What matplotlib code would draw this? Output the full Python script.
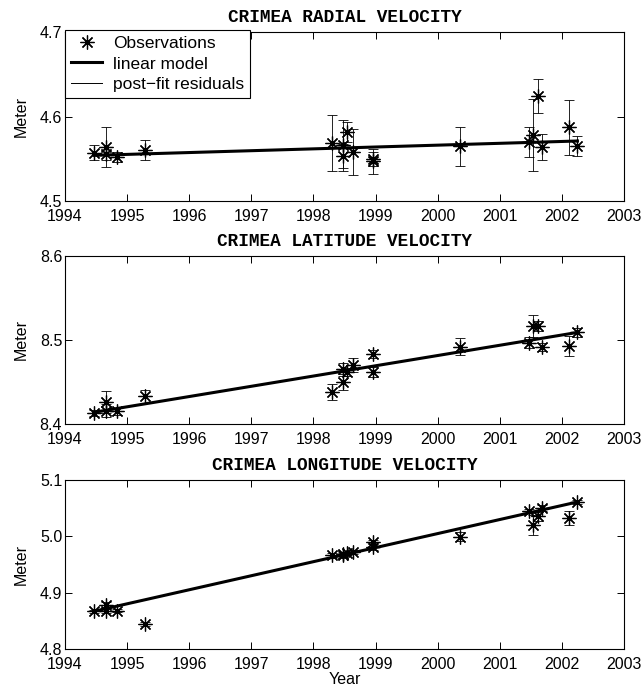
import matplotlib
matplotlib.use("Agg")
import matplotlib.pyplot as plt
from matplotlib.lines import Line2D

# Observation epochs (decimal year), shared by the three components
years = [1994.47, 1994.66, 1994.66, 1994.83, 1995.29, 1998.30, 1998.48, 1998.48,
         1998.54, 1998.64, 1998.96, 1998.96, 2000.36, 2001.47, 2001.54, 2001.62,
         2001.68, 2002.12, 2002.25]

radial = [4.557, 4.564, 4.556, 4.552, 4.560, 4.569, 4.566, 4.553, 4.582, 4.558,
          4.547, 4.550, 4.565, 4.570, 4.578, 4.624, 4.564, 4.587, 4.565]
radial_err = [0.009, 0.024, 0.008, 0.006, 0.012, 0.033, 0.030, 0.014, 0.012, 0.027,
              0.015, 0.008, 0.023, 0.018, 0.043, 0.020, 0.015, 0.032, 0.012]

latitude = [8.413, 8.426, 8.416, 8.415, 8.433, 8.438, 8.465, 8.450, 8.462, 8.470,
            8.483, 8.462, 8.492, 8.497, 8.517, 8.517, 8.492, 8.493, 8.509]
latitude_err = [0.004, 0.013, 0.008, 0.004, 0.008, 0.010, 0.008, 0.009, 0.005, 0.008,
                0.005, 0.006, 0.010, 0.006, 0.013, 0.006, 0.005, 0.012, 0.005]

longitude = [4.867, 4.878, 4.868, 4.868, 4.844, 4.966, 4.966, 4.969, 4.970, 4.972,
             4.981, 4.990, 4.999, 5.045, 5.020, 5.036, 5.050, 5.033, 5.061]
longitude_err = [0.003, 0.005, 0.004, 0.003, 0.004, 0.004, 0.005, 0.004, 0.003, 0.003,
                 0.005, 0.004, 0.008, 0.004, 0.017, 0.008, 0.005, 0.012, 0.004]

# linear model end points
model_years = [1994.47, 2002.25]
radial_model = [4.554, 4.571]
latitude_model = [8.414, 8.509]
longitude_model = [4.867, 5.061]

titles = ["CRIMEA RADIAL VELOCITY", "CRIMEA LATITUDE VELOCITY", "CRIMEA LONGITUDE VELOCITY"]
yticks = [[4.5, 4.6, 4.7], [8.4, 8.5, 8.6], [4.8, 4.9, 5.0, 5.1]]
xticks = list(range(1994, 2004))
legend_labels = ["Observations", "linear model", "post\u2212fit residuals"]

plt.rcParams['font.family'] = 'Liberation Sans'

W, H = 644, 695
fig = plt.figure(figsize=(W / 100, H / 100), dpi=100)

# axes boxes in pixels: (top, bottom)
boxes = [(32, 201), (256, 424), (480, 649)]
left, right = 65, 624

# MATLAB-like asterisk: plus and cross on top of each other
star = (8, 2, 0)
series = [(radial, radial_err, radial_model),
          (latitude, latitude_err, latitude_model),
          (longitude, longitude_err, longitude_model)]

for i, ((vals, errs, model), (top, bot)) in enumerate(zip(series, boxes)):
    ax = fig.add_axes([left / W, 1 - bot / H, (right - left) / W, (bot - top) / H])
    ax.errorbar(years, vals, yerr=errs, fmt='none', ecolor='black',
                elinewidth=0.6, capsize=3.5, capthick=0.6)
    ax.plot(years, vals, linestyle='none', marker=star, markersize=10,
            markeredgewidth=0.9, color='black')
    ax.plot(model_years, model, color='black', linewidth=2.2)

    ax.set_xlim(1994, 2003)
    ax.set_ylim(yticks[i][0], yticks[i][-1])
    ax.set_xticks(xticks)
    ax.set_yticks(yticks[i])
    ax.set_yticklabels([f"{t:.1f}" for t in yticks[i]])
    ax.tick_params(direction='in', top=True, right=True, length=5, width=0.7,
                   labelsize=11.5)
    ax.tick_params(axis='x', pad=5.5)
    ax.tick_params(axis='y', pad=2)
    for s in ax.spines.values():
        s.set_linewidth(0.8)
    ax.set_ylabel("Meter", fontsize=11.5, labelpad=8)
    ax.set_title(titles[i], family='Liberation Mono', fontweight='bold',
                 fontsize=12.8, pad=7)

    if i == 0:
        handles = [Line2D([], [], linestyle='none', marker=star, markersize=10,
                          markeredgewidth=0.9, color='black'),
                   Line2D([], [], color='black', linewidth=2.2),
                   Line2D([], [], color='black', linewidth=0.7)]
        leg = ax.legend(handles, legend_labels,
                        loc='upper left', bbox_to_anchor=(0.0, 1.012), borderaxespad=0,
                        fontsize=12.5, fancybox=False, framealpha=1, edgecolor='black',
                        handlelength=1.8, handletextpad=0.6, labelspacing=0.3,
                        borderpad=0.35)
        leg.get_frame().set_linewidth(0.8)
    if i == 2:
        ax.set_xlabel("Year", fontsize=11.5, labelpad=0)

fig.savefig("out.png", dpi=100)
